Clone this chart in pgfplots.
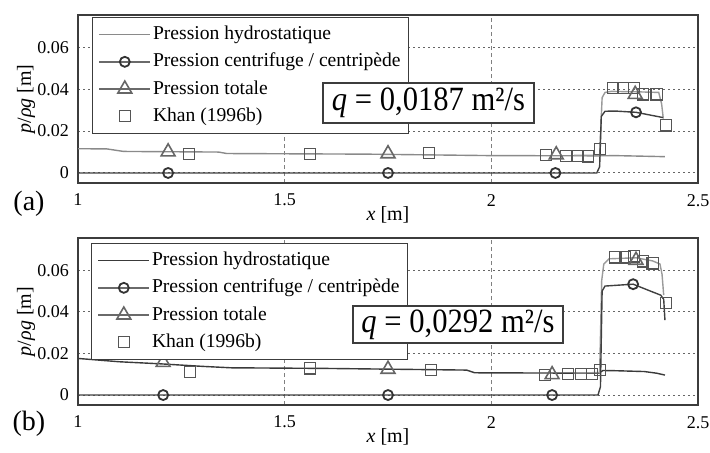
\documentclass[border=0pt]{standalone}
\usepackage{fontspec}
\setmainfont{Liberation Serif}
\newfontfamily\qfont[FakeStretch=0.9]{Liberation Serif}
\usepackage{pgfplots}
\pgfplotsset{compat=1.18}
\usepackage{pgfplotstable}

\definecolor{axc}{HTML}{3C3C3C}
\definecolor{hydA}{HTML}{8A8A8A}
\definecolor{hydB}{HTML}{3A3A3A}
\definecolor{totc}{HTML}{9A9A9A}
\definecolor{cenc}{HTML}{404040}
\definecolor{circc}{HTML}{333333}
\definecolor{tric}{HTML}{666666}
\definecolor{sqc}{HTML}{555555}
\definecolor{legc}{HTML}{6A6A6A}

% ---------- panel (a) ----------
\pgfplotstableread{
x y
1.00 0.0116
1.07 0.0115
1.11 0.0103
1.34 0.0100
1.36 0.0093
1.70 0.0090
2.00 0.0083
2.26 0.0082
2.30 0.0083
2.42 0.0078
}\hydroA
\pgfplotstableread{
x y
2.20 0.0084
2.262 0.0085
2.268 0.0360
2.275 0.0385
2.29 0.0390
2.35 0.0388
2.405 0.0385
2.412 0.0330
2.416 0.0260
}\totA
\pgfplotstableread{
x y
1.00 0
2.255 0
2.262 0.0030
2.266 0.0270
2.275 0.0295
2.30 0.0296
2.35 0.0290
2.415 0.0265
}\cenA
\pgfplotstableread{
x y
1.218 0
1.75 0
2.155 0
2.35 0.0290
}\circA
\pgfplotstableread{
x y
1.218 0.0101
1.75 0.0092
2.157 0.0087
2.348 0.0376
}\triA
\pgfplotstableread{
x y
1.268 0.0092
1.561 0.0092
1.849 0.0096
2.132 0.0087
2.181 0.0082
2.210 0.0082
2.234 0.0079
2.263 0.0116
2.295 0.0405
2.319 0.0405
2.345 0.0405
2.367 0.0376
2.400 0.0376
2.422 0.0227
}\khanA

% ---------- panel (b) ----------
\pgfplotstableread{
x y
1.00 0.0176
1.10 0.0160
1.20 0.0150
1.30 0.0138
1.37 0.0131
1.60 0.0128
1.94 0.0120
1.96 0.0107
2.26 0.0105
2.27 0.0118
2.30 0.0117
2.37 0.0113
2.40 0.0105
2.42 0.0096
}\hydroB
\pgfplotstableread{
x y
2.20 0.0106
2.262 0.0108
2.267 0.0550
2.272 0.0630
2.285 0.0655
2.35 0.0660
2.39 0.0645
2.408 0.0630
2.413 0.0580
2.417 0.0480
}\totB
\pgfplotstableread{
x y
1.00 0
2.258 0
2.264 0.0040
2.268 0.0500
2.275 0.0524
2.343 0.0533
2.41 0.0480
2.417 0.0460
2.42 0.0360
}\cenB
\pgfplotstableread{
x y
1.206 0
1.75 0
2.147 0
2.343 0.0533
}\circB
\pgfplotstableread{
x y
1.206 0.0157
1.75 0.0124
2.147 0.0098
2.35 0.0648
}\triB
\pgfplotstableread{
x y
1.271 0.0110
1.561 0.0128
1.854 0.0119
2.130 0.0097
2.186 0.0100
2.217 0.0100
2.243 0.0100
2.263 0.0120
2.300 0.0662
2.323 0.0662
2.345 0.0667
2.367 0.0643
2.390 0.0633
2.422 0.0443
}\khanB

\pgfplotsset{panel/.style={
  scale only axis, width=310pt,
  xmin=1, xmax=2.5, ymin=-0.0048, ymax=0.0755,
  xtick={1,1.5,2,2.5}, xticklabels={1,1.5,2,2.5},
  ytick={0,0.02,0.04,0.06}, yticklabels={0,0.02,0.04,0.06},
  scaled ticks=false,
  major tick length=0pt,
  xmajorgrids, ymajorgrids,
  major x grid style={gray, dash pattern=on 2pt off 1.5pt, line width=0.4pt},
  major y grid style={black!60, dash pattern=on 1pt off 1.5pt, line width=0.5pt},
  axis line style={axc, line width=0.8pt},
  tick label style={font=\fontsize{9}{10}\selectfont},
  xticklabel style={yshift=-2pt},
  yticklabel style={xshift=-1pt},
  xlabel={\textit{x} [m]}, ylabel={\textit{p}/\textit{ρg} [m]},
  label style={font=\fontsize{10}{12}\selectfont},
  x label style={at={(axis description cs:0.5,0)}, anchor=center, yshift=-16pt},
  y label style={at={(axis description cs:-0.0839,0.5)}, anchor=center},
  legend cell align=left,
  legend style={draw=axc, line width=0.6pt, fill=white,
    font=\fontsize{9.8}{11}\selectfont,
    inner xsep=3pt, inner ysep=3pt, row sep=2.6pt,
    nodes={inner sep=1pt, text height=7pt, text depth=2pt}},
  legend image code/.code={\draw[mark repeat=2,mark phase=2,##1] plot coordinates {(0pt,0pt) (12.75pt,0pt) (25.5pt,0pt)};},
}}

\begin{document}
\begin{tikzpicture}
\useasboundingbox (0,0) rectangle (355pt,-226pt);

% ================= (a) =================
\begin{axis}[panel, name=A, height=84pt, at={(39pt,-7.5pt)}, anchor=north west,
  legend style={at={(0.0226,0.988)}, anchor=north west}]
\addlegendimage{hydA, line width=0.7pt}
\addlegendentry{Pression hydrostatique}
\addlegendimage{legc, line width=0.7pt, mark=o, mark size=2.5pt, mark options={circc, line width=0.9pt, fill=white}}
\addlegendentry{Pression centrifuge / centripède}
\addlegendimage{legc, line width=0.7pt, mark=triangle, mark size=4pt, mark options={tric, line width=0.8pt}}
\addlegendentry{Pression totale}
\addlegendimage{only marks, mark=square, mark size=2.8pt, mark options={sqc, line width=0.6pt}}
\addlegendentry{Khan (1996b)}

\addplot[forget plot, no markers, hydA, line width=0.7pt] table {\hydroA};
\addplot[forget plot, no markers, totc, line width=0.7pt] table {\totA};
\addplot[forget plot, no markers, cenc, line width=0.7pt] table {\cenA};
\addplot[forget plot, only marks, mark=square, mark size=2.8pt, mark options={sqc, line width=0.6pt}] table {\khanA};
\addplot[forget plot, only marks, mark=triangle, mark size=4pt, mark options={tric, line width=0.8pt}] table {\triA};
\addplot[forget plot, only marks, mark=o, mark size=2.5pt, mark options={circc, line width=0.9pt}] table {\circA};
\end{axis}
\node[draw=axc, line width=0.6pt, fill=white, minimum width=105.5pt, minimum height=20pt, inner sep=0pt,
  font=\qfont\fontsize{17}{19}\selectfont]
  at ([xshift=175.25pt, yshift=40pt]A.south west) {\textit{q} = 0,0187 m²/s};
\node[font=\fontsize{14}{16}\selectfont] at (14.5pt,-102pt) {(a)};

% ================= (b) =================
\begin{axis}[panel, name=B, height=83.5pt, at={(39pt,-119pt)}, anchor=north west,
  legend style={at={(0.021,0.97)}, anchor=north west}]
\addlegendimage{hydB, line width=0.7pt}
\addlegendentry{Pression hydrostatique}
\addlegendimage{legc, line width=0.7pt, mark=o, mark size=2.5pt, mark options={circc, line width=0.9pt, fill=white}}
\addlegendentry{Pression centrifuge / centripède}
\addlegendimage{legc, line width=0.7pt, mark=triangle, mark size=4pt, mark options={tric, line width=0.8pt}}
\addlegendentry{Pression totale}
\addlegendimage{only marks, mark=square, mark size=2.8pt, mark options={sqc, line width=0.6pt}}
\addlegendentry{Khan (1996b)}

\addplot[forget plot, no markers, hydB, line width=0.7pt] table {\hydroB};
\addplot[forget plot, no markers, totc, line width=0.7pt] table {\totB};
\addplot[forget plot, no markers, cenc, line width=0.7pt] table {\cenB};
\addplot[forget plot, only marks, mark=square, mark size=2.8pt, mark options={sqc, line width=0.6pt}] table {\khanB};
\addplot[forget plot, only marks, mark=triangle, mark size=4pt, mark options={tric, line width=0.8pt}] table {\triB};
\addplot[forget plot, only marks, mark=o, mark size=2.5pt, mark options={circc, line width=0.9pt}] table {\circB};
\end{axis}
\node[draw=axc, line width=0.6pt, fill=white, minimum width=105pt, minimum height=18.5pt, inner sep=0pt,
  font=\qfont\fontsize{17}{19}\selectfont]
  at ([xshift=190pt, yshift=40.25pt]B.south west) {\textit{q} = 0,0292 m²/s};
\node[font=\fontsize{14}{16}\selectfont] at (14.5pt,-212pt) {(b)};
\end{tikzpicture}
\end{document}
